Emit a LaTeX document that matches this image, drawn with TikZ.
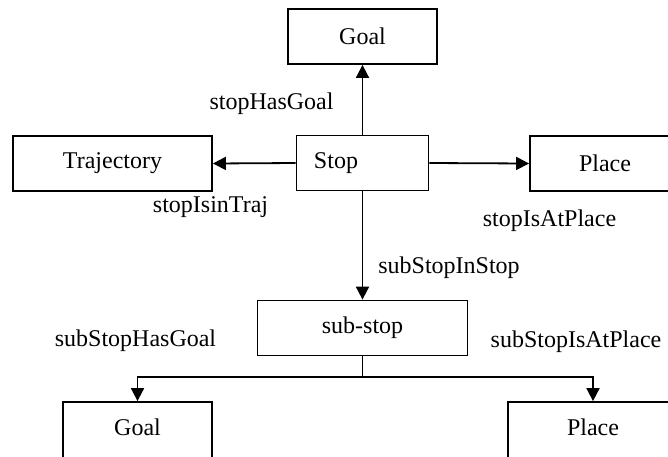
\documentclass[tikz,border=0pt]{standalone}
\usepackage{fontspec}
\setmainfont{Liberation Serif}
\usetikzlibrary{arrows.meta}
\begin{document}
\begin{tikzpicture}[x=0.5pt,y=-0.5pt,
  box/.style={draw,line width=0.9pt,inner sep=0pt,minimum height=27.5pt,font=\fontsize{12pt}{14pt}\selectfont},
  lbl/.style={inner sep=0pt,font=\fontsize{12pt}{14pt}\selectfont},
  conn/.style={line width=0.9pt,-{Triangle[length=6.5pt,width=6.5pt]}}]
\useasboundingbox (0,0) rectangle (668,456);
\node[box,minimum width=74.5pt] (goalT) at (362.5,36.5) {Goal};
\node[box,minimum width=66pt] (stop) at (362.5,163) {};
\node[lbl] (stoptext) at (336,163) {Stop};
\node[box,minimum width=99.5pt] (traj) at (112.5,163.5) {Trajectory};
\node[box,minimum width=75pt] (placeT) at (605,163.5) {Place};
\node[box,minimum width=105pt] (sub) at (362.5,328) {sub-stop};
\node[box,minimum width=74.5pt,minimum height=30pt,text depth=5pt] (goalB) at (137.5,432) {Goal};
\node[box,minimum width=85pt,minimum height=30pt,text depth=5pt] (placeB) at (593,432) {Place};
\coordinate (br) at (362.5,377);
\draw[conn] (stop.north) -- (goalT.south);
\draw[conn] (stop.west) -- (traj.east);
\draw[conn] (stop.east) -- (placeT.west);
\draw[conn] (stop.south) -- (sub.north);
\draw[line width=0.9pt] (sub.south) -- (br);
\draw[conn] (br) -| (goalB.north);
\draw[conn] (br) -| (placeB.north);
\node[lbl] (l1) at (271.5,104) {stopHasGoal};
\node[lbl] (l2) at (210.5,207) {stopIsinTraj};
\node[lbl] (l3) at (549.5,221) {stopIsAtPlace};
\node[lbl] (l4) at (449,268) {subStopInStop};
\node[lbl] (l5) at (135.5,341) {subStopHasGoal};
\node[lbl] (l6) at (576,342) {subStopIsAtPlace};
\end{tikzpicture}
\end{document}
